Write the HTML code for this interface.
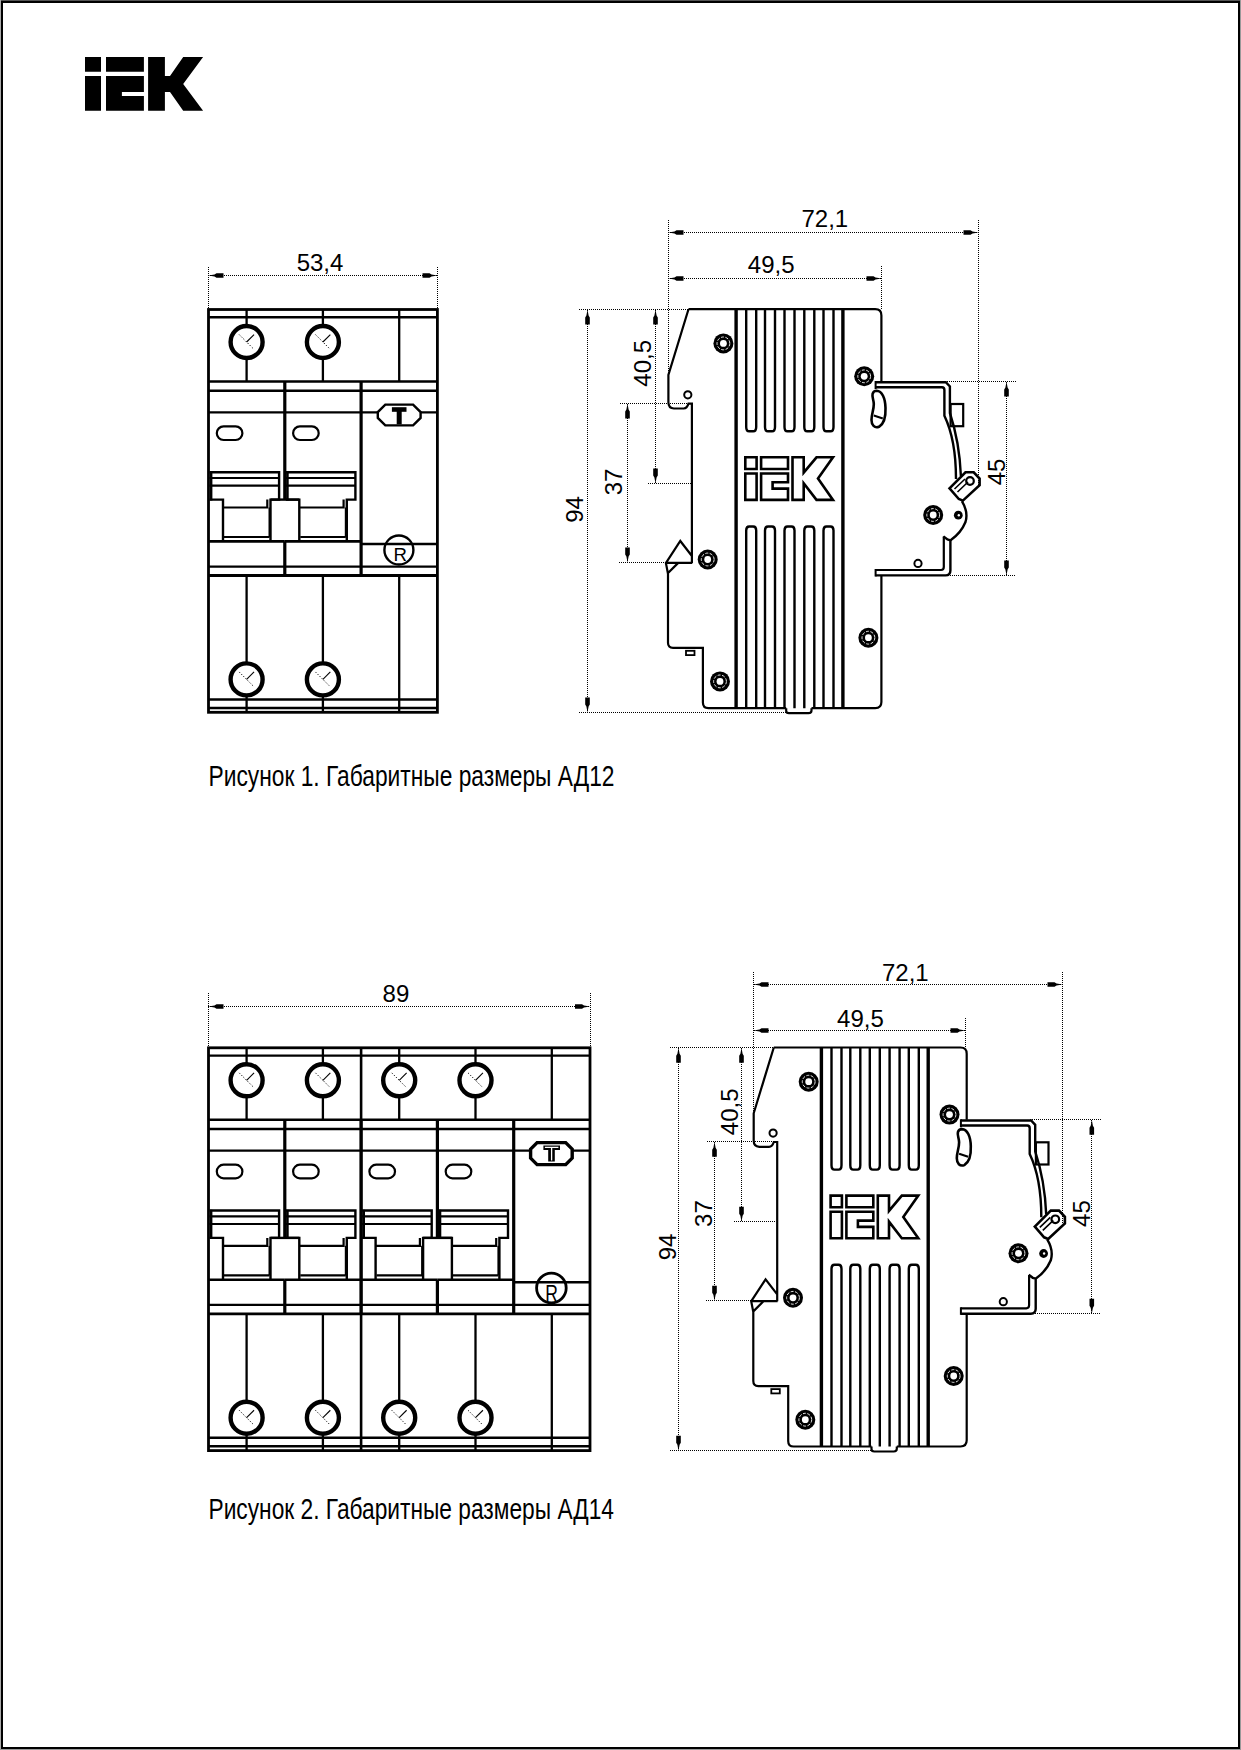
<!DOCTYPE html>
<html><head><meta charset="utf-8"><title>IEK AD12 AD14</title>
<style>html,body{margin:0;padding:0;background:#fff;width:1241px;height:1750px;overflow:hidden}svg{display:block}</style>
</head><body>
<svg width="1241" height="1750" viewBox="0 0 1241 1750">
<style>
line,rect,circle,path,polygon{stroke-linecap:butt;stroke-linejoin:miter}
.d{stroke-width:1;stroke-dasharray:1 1;fill:none;shape-rendering:crispEdges}
.d2{stroke-width:1;stroke-dasharray:1.2 1.8;fill:none}
.ar{fill:#000;stroke:none}
text{font-family:"Liberation Sans",sans-serif;fill:#000;stroke:none}
</style>
<rect x="0" y="0" width="1241" height="1750" fill="#fff" stroke="none"/>
<g stroke="#000">
<rect x="0" y="0" width="1241" height="1" fill="#555" stroke="none"/>
<rect x="0" y="0" width="1" height="1750" fill="#aaa" stroke="none"/>
<rect x="1240" y="0" width="1" height="1750" fill="#999" stroke="none"/>
<rect x="0" y="1749" width="1241" height="1" fill="#999" stroke="none"/>
<rect x="2" y="2" width="1237" height="1746" fill="none" stroke-width="2"/>
<path stroke="none" fill="#000" d="M85,57.1H101V71.8H85Z M85,76H101V110.8H85Z M106,57.1H143.9V71.8H106Z M106,76H143.9V91.9H121.9V95.9H143.9V110.8H106Z M148.1,57.1H164.9V76H170L183.2,57.1H203.1L183.2,84L203.1,110.8H183.2L170,91.9H164.9V110.8H148.1Z"/>
<rect x="208.50" y="309.50" width="228.90" height="402.80" stroke-width="2.8" fill="none"/>
<line x1="208.50" y1="317.30" x2="437.40" y2="317.30" stroke-width="2.4" />
<line x1="208.50" y1="381.50" x2="437.40" y2="381.50" stroke-width="2.6" />
<line x1="208.50" y1="390.70" x2="437.40" y2="390.70" stroke-width="2.4" />
<line x1="208.50" y1="412.30" x2="437.40" y2="412.30" stroke-width="2.2" />
<line x1="208.50" y1="566.60" x2="437.40" y2="566.60" stroke-width="2.4" />
<line x1="208.50" y1="575.50" x2="437.40" y2="575.50" stroke-width="2.8" />
<line x1="208.50" y1="699.50" x2="437.40" y2="699.50" stroke-width="2.4" />
<line x1="208.50" y1="708.00" x2="437.40" y2="708.00" stroke-width="2.4" />
<line x1="284.80" y1="381.50" x2="284.80" y2="499.60" stroke-width="3.2" />
<line x1="284.80" y1="541.40" x2="284.80" y2="575.50" stroke-width="3.2" />
<line x1="270.50" y1="499.60" x2="299.30" y2="499.60" stroke-width="2.4" />
<line x1="361.10" y1="381.50" x2="361.10" y2="575.50" stroke-width="3.2" />
<line x1="246.60" y1="309.50" x2="246.60" y2="381.50" stroke-width="2.3" />
<line x1="246.60" y1="575.50" x2="246.60" y2="712.30" stroke-width="2.3" />
<circle cx="246.60" cy="342.00" r="16.00" stroke-width="4.4" fill="#fff" />
<line x1="246.60" y1="342.00" x2="254.04" y2="334.56" stroke-width="1.1"/>
<line class="d2" x1="239.16" y1="334.56" x2="254.04" y2="349.44"/>
<circle cx="246.60" cy="679.40" r="16.00" stroke-width="4.4" fill="#fff" />
<line x1="246.60" y1="679.40" x2="254.04" y2="671.96" stroke-width="1.1"/>
<line class="d2" x1="239.16" y1="671.96" x2="254.04" y2="686.84"/>
<rect x="216.80" y="426.40" width="25.6" height="13.6" rx="6.8" ry="6.8" stroke-width="2.2" fill="none"/>
<line x1="208.50" y1="541.40" x2="284.80" y2="541.40" stroke-width="2.6" />
<path d="M209.50,472.20 H279.10 V499.60 H270.50 V541.40" stroke-width="2.4" fill="none" />
<path d="M209.50,499.60 H223.00 V541.40" stroke-width="2.4" fill="none" />
<line x1="211.10" y1="471.50" x2="211.10" y2="500.50" stroke-width="2.6" />
<line x1="209.50" y1="478.00" x2="279.10" y2="478.00" stroke-width="2.2" />
<line x1="209.50" y1="485.70" x2="279.10" y2="485.70" stroke-width="2.2" />
<path d="M223.00,507.50 H267.30 V499.60" stroke-width="2.2" fill="none" />
<line x1="224.00" y1="537.00" x2="269.50" y2="537.00" stroke-width="2.2" />
<line x1="269.50" y1="507.50" x2="269.50" y2="537.00" stroke-width="2.0" />
<line x1="322.90" y1="309.50" x2="322.90" y2="381.50" stroke-width="2.3" />
<line x1="322.90" y1="575.50" x2="322.90" y2="712.30" stroke-width="2.3" />
<circle cx="322.90" cy="342.00" r="16.00" stroke-width="4.4" fill="#fff" />
<line x1="322.90" y1="342.00" x2="330.34" y2="334.56" stroke-width="1.1"/>
<line class="d2" x1="315.46" y1="334.56" x2="330.34" y2="349.44"/>
<circle cx="322.90" cy="679.40" r="16.00" stroke-width="4.4" fill="#fff" />
<line x1="322.90" y1="679.40" x2="330.34" y2="671.96" stroke-width="1.1"/>
<line class="d2" x1="315.46" y1="671.96" x2="330.34" y2="686.84"/>
<rect x="293.10" y="426.40" width="25.6" height="13.6" rx="6.8" ry="6.8" stroke-width="2.2" fill="none"/>
<line x1="284.80" y1="541.40" x2="361.10" y2="541.40" stroke-width="2.6" />
<path d="M285.80,472.20 H355.40 V499.60 H346.80 V541.40" stroke-width="2.4" fill="none" />
<path d="M285.80,499.60 H299.30 V541.40" stroke-width="2.4" fill="none" />
<line x1="287.40" y1="471.50" x2="287.40" y2="500.50" stroke-width="2.6" />
<line x1="285.80" y1="478.00" x2="355.40" y2="478.00" stroke-width="2.2" />
<line x1="285.80" y1="485.70" x2="355.40" y2="485.70" stroke-width="2.2" />
<path d="M299.30,507.50 H343.60 V499.60" stroke-width="2.2" fill="none" />
<line x1="300.30" y1="537.00" x2="345.80" y2="537.00" stroke-width="2.2" />
<line x1="345.80" y1="507.50" x2="345.80" y2="537.00" stroke-width="2.0" />
<line x1="399.20" y1="309.50" x2="399.20" y2="381.50" stroke-width="2.3" />
<line x1="399.20" y1="575.50" x2="399.20" y2="712.30" stroke-width="2.3" />
<line x1="361.10" y1="544.00" x2="437.40" y2="544.00" stroke-width="2.4" />
<polygon points="385.30,404.60 413.10,404.60 420.60,412.10 420.60,417.90 413.10,425.40 385.30,425.40 377.80,417.90 377.80,412.10" fill="#fff" stroke-width="2.4"/>
<rect x="391.90" y="407.20" width="14.6" height="4.6" fill="#000" stroke="none"/>
<rect x="396.70" y="411.00" width="5" height="13.4" fill="#000" stroke="none"/>
<text transform="translate(400.1,560.6) scale(0.98,1)" font-size="19" text-anchor="middle">R</text>
<circle cx="398.90" cy="550.00" r="14.50" stroke-width="2.4" fill="none" />
<rect x="208.50" y="1047.80" width="381.50" height="402.80" stroke-width="2.8" fill="none"/>
<line x1="208.50" y1="1055.60" x2="590.00" y2="1055.60" stroke-width="2.4" />
<line x1="208.50" y1="1119.80" x2="590.00" y2="1119.80" stroke-width="2.6" />
<line x1="208.50" y1="1129.00" x2="590.00" y2="1129.00" stroke-width="2.4" />
<line x1="208.50" y1="1150.60" x2="590.00" y2="1150.60" stroke-width="2.2" />
<line x1="208.50" y1="1304.90" x2="590.00" y2="1304.90" stroke-width="2.4" />
<line x1="208.50" y1="1313.80" x2="590.00" y2="1313.80" stroke-width="2.8" />
<line x1="208.50" y1="1437.80" x2="590.00" y2="1437.80" stroke-width="2.4" />
<line x1="208.50" y1="1446.30" x2="590.00" y2="1446.30" stroke-width="2.4" />
<line x1="361.10" y1="1047.80" x2="361.10" y2="1450.60" stroke-width="2.6" />
<line x1="284.80" y1="1119.80" x2="284.80" y2="1237.90" stroke-width="3.2" />
<line x1="284.80" y1="1279.70" x2="284.80" y2="1313.80" stroke-width="3.2" />
<line x1="270.50" y1="1237.90" x2="299.30" y2="1237.90" stroke-width="2.4" />
<line x1="361.10" y1="1119.80" x2="361.10" y2="1313.80" stroke-width="3.2" />
<line x1="437.40" y1="1119.80" x2="437.40" y2="1237.90" stroke-width="3.2" />
<line x1="437.40" y1="1279.70" x2="437.40" y2="1313.80" stroke-width="3.2" />
<line x1="423.10" y1="1237.90" x2="451.90" y2="1237.90" stroke-width="2.4" />
<line x1="513.70" y1="1119.80" x2="513.70" y2="1313.80" stroke-width="3.2" />
<line x1="246.60" y1="1047.80" x2="246.60" y2="1119.80" stroke-width="2.3" />
<line x1="246.60" y1="1313.80" x2="246.60" y2="1450.60" stroke-width="2.3" />
<circle cx="246.60" cy="1080.30" r="16.00" stroke-width="4.4" fill="#fff" />
<line x1="246.60" y1="1080.30" x2="254.04" y2="1072.86" stroke-width="1.1"/>
<line class="d2" x1="239.16" y1="1072.86" x2="254.04" y2="1087.74"/>
<circle cx="246.60" cy="1417.70" r="16.00" stroke-width="4.4" fill="#fff" />
<line x1="246.60" y1="1417.70" x2="254.04" y2="1410.26" stroke-width="1.1"/>
<line class="d2" x1="239.16" y1="1410.26" x2="254.04" y2="1425.14"/>
<rect x="216.80" y="1164.70" width="25.6" height="13.6" rx="6.8" ry="6.8" stroke-width="2.2" fill="none"/>
<line x1="208.50" y1="1279.70" x2="284.80" y2="1279.70" stroke-width="2.6" />
<path d="M209.50,1210.50 H279.10 V1237.90 H270.50 V1279.70" stroke-width="2.4" fill="none" />
<path d="M209.50,1237.90 H223.00 V1279.70" stroke-width="2.4" fill="none" />
<line x1="211.10" y1="1209.80" x2="211.10" y2="1238.80" stroke-width="2.6" />
<line x1="209.50" y1="1216.30" x2="279.10" y2="1216.30" stroke-width="2.2" />
<line x1="209.50" y1="1224.00" x2="279.10" y2="1224.00" stroke-width="2.2" />
<path d="M223.00,1245.80 H267.30 V1237.90" stroke-width="2.2" fill="none" />
<line x1="224.00" y1="1275.30" x2="269.50" y2="1275.30" stroke-width="2.2" />
<line x1="269.50" y1="1245.80" x2="269.50" y2="1275.30" stroke-width="2.0" />
<line x1="322.90" y1="1047.80" x2="322.90" y2="1119.80" stroke-width="2.3" />
<line x1="322.90" y1="1313.80" x2="322.90" y2="1450.60" stroke-width="2.3" />
<circle cx="322.90" cy="1080.30" r="16.00" stroke-width="4.4" fill="#fff" />
<line x1="322.90" y1="1080.30" x2="330.34" y2="1072.86" stroke-width="1.1"/>
<line class="d2" x1="315.46" y1="1072.86" x2="330.34" y2="1087.74"/>
<circle cx="322.90" cy="1417.70" r="16.00" stroke-width="4.4" fill="#fff" />
<line x1="322.90" y1="1417.70" x2="330.34" y2="1410.26" stroke-width="1.1"/>
<line class="d2" x1="315.46" y1="1410.26" x2="330.34" y2="1425.14"/>
<rect x="293.10" y="1164.70" width="25.6" height="13.6" rx="6.8" ry="6.8" stroke-width="2.2" fill="none"/>
<line x1="284.80" y1="1279.70" x2="361.10" y2="1279.70" stroke-width="2.6" />
<path d="M285.80,1210.50 H355.40 V1237.90 H346.80 V1279.70" stroke-width="2.4" fill="none" />
<path d="M285.80,1237.90 H299.30 V1279.70" stroke-width="2.4" fill="none" />
<line x1="287.40" y1="1209.80" x2="287.40" y2="1238.80" stroke-width="2.6" />
<line x1="285.80" y1="1216.30" x2="355.40" y2="1216.30" stroke-width="2.2" />
<line x1="285.80" y1="1224.00" x2="355.40" y2="1224.00" stroke-width="2.2" />
<path d="M299.30,1245.80 H343.60 V1237.90" stroke-width="2.2" fill="none" />
<line x1="300.30" y1="1275.30" x2="345.80" y2="1275.30" stroke-width="2.2" />
<line x1="345.80" y1="1245.80" x2="345.80" y2="1275.30" stroke-width="2.0" />
<line x1="399.20" y1="1047.80" x2="399.20" y2="1119.80" stroke-width="2.3" />
<line x1="399.20" y1="1313.80" x2="399.20" y2="1450.60" stroke-width="2.3" />
<circle cx="399.20" cy="1080.30" r="16.00" stroke-width="4.4" fill="#fff" />
<line x1="399.20" y1="1080.30" x2="406.64" y2="1072.86" stroke-width="1.1"/>
<line class="d2" x1="391.76" y1="1072.86" x2="406.64" y2="1087.74"/>
<circle cx="399.20" cy="1417.70" r="16.00" stroke-width="4.4" fill="#fff" />
<line x1="399.20" y1="1417.70" x2="406.64" y2="1410.26" stroke-width="1.1"/>
<line class="d2" x1="391.76" y1="1410.26" x2="406.64" y2="1425.14"/>
<rect x="369.40" y="1164.70" width="25.6" height="13.6" rx="6.8" ry="6.8" stroke-width="2.2" fill="none"/>
<line x1="361.10" y1="1279.70" x2="437.40" y2="1279.70" stroke-width="2.6" />
<path d="M362.10,1210.50 H431.70 V1237.90 H423.10 V1279.70" stroke-width="2.4" fill="none" />
<path d="M362.10,1237.90 H375.60 V1279.70" stroke-width="2.4" fill="none" />
<line x1="363.70" y1="1209.80" x2="363.70" y2="1238.80" stroke-width="2.6" />
<line x1="362.10" y1="1216.30" x2="431.70" y2="1216.30" stroke-width="2.2" />
<line x1="362.10" y1="1224.00" x2="431.70" y2="1224.00" stroke-width="2.2" />
<path d="M375.60,1245.80 H419.90 V1237.90" stroke-width="2.2" fill="none" />
<line x1="376.60" y1="1275.30" x2="422.10" y2="1275.30" stroke-width="2.2" />
<line x1="422.10" y1="1245.80" x2="422.10" y2="1275.30" stroke-width="2.0" />
<line x1="475.50" y1="1047.80" x2="475.50" y2="1119.80" stroke-width="2.3" />
<line x1="475.50" y1="1313.80" x2="475.50" y2="1450.60" stroke-width="2.3" />
<circle cx="475.50" cy="1080.30" r="16.00" stroke-width="4.4" fill="#fff" />
<line x1="475.50" y1="1080.30" x2="482.94" y2="1072.86" stroke-width="1.1"/>
<line class="d2" x1="468.06" y1="1072.86" x2="482.94" y2="1087.74"/>
<circle cx="475.50" cy="1417.70" r="16.00" stroke-width="4.4" fill="#fff" />
<line x1="475.50" y1="1417.70" x2="482.94" y2="1410.26" stroke-width="1.1"/>
<line class="d2" x1="468.06" y1="1410.26" x2="482.94" y2="1425.14"/>
<rect x="445.70" y="1164.70" width="25.6" height="13.6" rx="6.8" ry="6.8" stroke-width="2.2" fill="none"/>
<line x1="437.40" y1="1279.70" x2="513.70" y2="1279.70" stroke-width="2.6" />
<path d="M438.40,1210.50 H508.00 V1237.90 H499.40 V1279.70" stroke-width="2.4" fill="none" />
<path d="M438.40,1237.90 H451.90 V1279.70" stroke-width="2.4" fill="none" />
<line x1="440.00" y1="1209.80" x2="440.00" y2="1238.80" stroke-width="2.6" />
<line x1="438.40" y1="1216.30" x2="508.00" y2="1216.30" stroke-width="2.2" />
<line x1="438.40" y1="1224.00" x2="508.00" y2="1224.00" stroke-width="2.2" />
<path d="M451.90,1245.80 H496.20 V1237.90" stroke-width="2.2" fill="none" />
<line x1="452.90" y1="1275.30" x2="498.40" y2="1275.30" stroke-width="2.2" />
<line x1="498.40" y1="1245.80" x2="498.40" y2="1275.30" stroke-width="2.0" />
<line x1="551.80" y1="1047.80" x2="551.80" y2="1119.80" stroke-width="2.3" />
<line x1="551.80" y1="1313.80" x2="551.80" y2="1450.60" stroke-width="2.3" />
<line x1="513.70" y1="1282.30" x2="590.00" y2="1282.30" stroke-width="2.4" />
<polygon points="537.10,1142.60 565.70,1142.60 572.20,1149.10 572.20,1158.10 565.70,1164.60 537.10,1164.60 530.60,1158.10 530.60,1149.10" fill="#fff" stroke-width="3.4"/>
<path d="M543.40,1145.40 H560.00 V1150.00 H554.80 V1161.60 H548.20 V1150.00 H543.40 Z" fill="#000" stroke="none"/>
<path d="M544.90,1147.30 H558.40 M551.60,1147.60 V1160.60" style="stroke:#fff" stroke-width="1.3"/>
<text transform="translate(551.6,1302.1) scale(0.74,1)" font-size="23.7" text-anchor="middle">R</text>
<circle cx="551.40" cy="1288.00" r="14.80" stroke-width="2.8" fill="none" />
<g id="side">
<path d="M688.5,309.2 H875.2 Q881.4,309.2 881.4,315.4 V381.5 M881.4,575.2 V702 Q881.4,708.2 875.2,708.2 H811.5 M786.2,708.2 H708.4 Q702.9,708.2 702.9,702.6 V647.8 H673 Q668,647.8 668,642.8 V573.8 L665.9,562.9 L667.3,560.8 L680.3,541 L691.9,556 M665.9,562.9 H692.3 M667.3,573.8 L678.2,562.9 M691.9,562.9 V403.7 H688.5 Q687,408.5 683.7,408.5 H674 Q668.4,408.5 668.4,402.3 V375 L688.5,309.2" stroke-width="2.2" fill="none" />
<path d="M786.2,708.2 V711 Q786.2,713.2 789,713.2 H808.5 Q811.5,713.2 811.5,710.5 V708.2" stroke-width="2.2" fill="none" />
<line x1="736.10" y1="309.20" x2="736.10" y2="708.20" stroke-width="3.4" />
<line x1="842.90" y1="309.20" x2="842.90" y2="708.20" stroke-width="3.4" />
<path d="M746.20,309.2 V427 Q746.20,431.3 749.20,431.3 H753.20 Q756.20,431.3 756.20,427 V309.2" stroke-width="2.4" fill="none" />
<path d="M746.20,708.2 V530.5 Q746.20,526.5 749.20,526.5 H753.20 Q756.20,526.5 756.20,530.5 V708.2" stroke-width="2.4" fill="none" />
<path d="M765.00,309.2 V427 Q765.00,431.3 768.00,431.3 H772.00 Q775.00,431.3 775.00,427 V309.2" stroke-width="2.4" fill="none" />
<path d="M765.00,708.2 V530.5 Q765.00,526.5 768.00,526.5 H772.00 Q775.00,526.5 775.00,530.5 V708.2" stroke-width="2.4" fill="none" />
<path d="M784.50,309.2 V427 Q784.50,431.3 787.50,431.3 H791.50 Q794.50,431.3 794.50,427 V309.2" stroke-width="2.4" fill="none" />
<path d="M784.50,708.2 V530.5 Q784.50,526.5 787.50,526.5 H791.50 Q794.50,526.5 794.50,530.5 V708.2" stroke-width="2.4" fill="none" />
<path d="M804.30,309.2 V427 Q804.30,431.3 807.30,431.3 H811.30 Q814.30,431.3 814.30,427 V309.2" stroke-width="2.4" fill="none" />
<path d="M804.30,708.2 V530.5 Q804.30,526.5 807.30,526.5 H811.30 Q814.30,526.5 814.30,530.5 V708.2" stroke-width="2.4" fill="none" />
<path d="M823.50,309.2 V427 Q823.50,431.3 826.50,431.3 H830.50 Q833.50,431.3 833.50,427 V309.2" stroke-width="2.4" fill="none" />
<path d="M823.50,708.2 V530.5 Q823.50,526.5 826.50,526.5 H830.50 Q833.50,526.5 833.50,530.5 V708.2" stroke-width="2.4" fill="none" />
<path d="M745.3,457.3 H756.6 V469.0 H745.3 Z M745.3,473.5 H756.6 V499.9 H745.3 Z M761.1,457.3 H788.0 V469.0 H761.1 Z M761.1,473.5 H788.0 V482.3 H772.6 V488.6 H788.0 V499.9 H761.1 Z M792.5,457.3 H803.7 V472.6 L816.5,457.3 H833.0 L818.0,478.6 L833.0,499.9 H816.5 L803.7,483.3 V499.9 H792.5 Z" stroke-width="2.6" fill="none" />
<circle cx="723.40" cy="343.40" r="10" fill="#000" stroke="none"/>
<circle cx="723.40" cy="343.40" r="6.4" fill="none" style="stroke:#fff;stroke-width:0.9;stroke-dasharray:3 1.5"/>
<circle cx="723.40" cy="343.40" r="3.4" fill="#fff" stroke="none"/>
<circle cx="707.70" cy="559.50" r="10" fill="#000" stroke="none"/>
<circle cx="707.70" cy="559.50" r="6.4" fill="none" style="stroke:#fff;stroke-width:0.9;stroke-dasharray:3 1.5"/>
<circle cx="707.70" cy="559.50" r="3.4" fill="#fff" stroke="none"/>
<circle cx="720.00" cy="681.40" r="10" fill="#000" stroke="none"/>
<circle cx="720.00" cy="681.40" r="6.4" fill="none" style="stroke:#fff;stroke-width:0.9;stroke-dasharray:3 1.5"/>
<circle cx="720.00" cy="681.40" r="3.4" fill="#fff" stroke="none"/>
<circle cx="864.20" cy="376.30" r="10" fill="#000" stroke="none"/>
<circle cx="864.20" cy="376.30" r="6.4" fill="none" style="stroke:#fff;stroke-width:0.9;stroke-dasharray:3 1.5"/>
<circle cx="864.20" cy="376.30" r="3.4" fill="#fff" stroke="none"/>
<circle cx="933.20" cy="515.00" r="10" fill="#000" stroke="none"/>
<circle cx="933.20" cy="515.00" r="6.4" fill="none" style="stroke:#fff;stroke-width:0.9;stroke-dasharray:3 1.5"/>
<circle cx="933.20" cy="515.00" r="3.4" fill="#fff" stroke="none"/>
<circle cx="868.40" cy="637.70" r="10" fill="#000" stroke="none"/>
<circle cx="868.40" cy="637.70" r="6.4" fill="none" style="stroke:#fff;stroke-width:0.9;stroke-dasharray:3 1.5"/>
<circle cx="868.40" cy="637.70" r="3.4" fill="#fff" stroke="none"/>
<circle cx="687.80" cy="394.80" r="3.60" stroke-width="2.0" fill="none" />
<circle cx="918.00" cy="563.40" r="3.60" stroke-width="2.0" fill="none" />
<circle cx="958.3" cy="515.2" r="4.4" fill="#000" stroke="none"/>
<circle cx="958.8" cy="515.2" r="1.2" fill="#fff" stroke="none"/>
<rect x="686" y="650.8" width="8.5" height="4.3" stroke-width="1.8" fill="none"/>
<path d="M876.6,390.8 C882,391 885.3,398 885.5,408 C885.8,416 883.8,424 879,426.8 C874.5,428.5 871.5,425 871.5,420 C871.5,414 873.8,410 873.8,404 C873.8,400 871.8,397 872.6,393.8 C873.3,391.5 875,390.8 876.6,390.8 Z" stroke-width="2.6" fill="none" />
<line x1="873.80" y1="415.50" x2="882.80" y2="418.50" stroke-width="2.0" />
<path d="M875.4,382.2 H945.8 L949.9,386.5 V413 Q959.5,442 960.9,476" stroke-width="2.4" fill="none" />
<path d="M875.4,387.2 H942 Q944.4,387.2 944.4,390 V415.8 Q956,440 956,479" stroke-width="2.4" fill="none" />
<line x1="875.60" y1="381.00" x2="875.60" y2="389.00" stroke-width="2.0" />
<rect x="950.6" y="404" width="12.6" height="22.2" stroke-width="2.2" fill="none"/>
<path d="M949.5,488.3 L965.5,472.3 H973.7 L979.6,478.5 V485.2 L962.9,500.6 L958.8,499 Z" stroke-width="2.6" fill="#fff" />
<path d="M954.5,489 L965,479 M957.5,492 L968,482" stroke-width="1.6" fill="none" />
<circle cx="970.00" cy="481.00" r="3.80" stroke-width="2.2" fill="none" />
<path d="M961.9,501.1 Q968.5,512 965.5,522 Q961,533 950.6,540.2" stroke-width="2.4" fill="none" />
<path d="M943.4,536.4 L947.5,539.5 L950.4,540.3 V570.5 Q950.4,575.4 945.5,575.4 H875.4" stroke-width="2.4" fill="none" />
<path d="M943.8,536.6 V567 Q943.8,570 941,570 H875.4" stroke-width="2.2" fill="none" />
<line x1="875.60" y1="569.00" x2="875.60" y2="576.50" stroke-width="2.0" />
</g>
<use href="#side" transform="translate(85.3,738.3)"/>
<path class="d" d="M208.5,267V309"/>
<path class="d" d="M437.5,267V309"/>
<path class="d" d="M208,275.5H438"/>
<polygon class="ar" points="208.50,275.50 214.50,274.40 216.50,273.20 223.50,273.20 223.50,277.80 216.50,277.80 214.50,276.60"/>
<polygon class="ar" points="437.50,275.50 431.50,276.60 429.50,277.80 422.50,277.80 422.50,273.20 429.50,273.20 431.50,274.40"/>
<text x="320.00" y="271.20" font-size="24" text-anchor="middle" >53,4</text>
<path class="d" d="M208.5,993V1047"/>
<path class="d" d="M590.5,993V1047"/>
<path class="d" d="M208,1006.5H590"/>
<polygon class="ar" points="208.50,1006.50 214.50,1005.40 216.50,1004.20 223.50,1004.20 223.50,1008.80 216.50,1008.80 214.50,1007.60"/>
<polygon class="ar" points="590.00,1006.50 584.00,1007.60 582.00,1008.80 575.00,1008.80 575.00,1004.20 582.00,1004.20 584.00,1005.40"/>
<text x="395.90" y="1001.80" font-size="24" text-anchor="middle" >89</text>
<path class="d" d="M668.5,220V404"/>
<path class="d" d="M978.5,220V485"/>
<path class="d" d="M881.5,266V309"/>
<path class="d" d="M668,232.5H978"/>
<polygon class="ar" points="668.50,232.50 674.50,231.40 676.50,230.20 683.50,230.20 683.50,234.80 676.50,234.80 674.50,233.60"/>
<polygon class="ar" points="978.50,232.50 972.50,233.60 970.50,234.80 963.50,234.80 963.50,230.20 970.50,230.20 972.50,231.40"/>
<path class="d" d="M668,278.5H882"/>
<polygon class="ar" points="668.50,278.50 674.50,277.40 676.50,276.20 683.50,276.20 683.50,280.80 676.50,280.80 674.50,279.60"/>
<polygon class="ar" points="881.50,278.50 875.50,279.60 873.50,280.80 866.50,280.80 866.50,276.20 873.50,276.20 875.50,277.40"/>
<path class="d" d="M579,309.5H688"/>
<path class="d" d="M579,712.5H786"/>
<path class="d" d="M620,403.5H690"/>
<path class="d" d="M648,483.5H691"/>
<path class="d" d="M619,562.5H666"/>
<path class="d" d="M587.5,310V712"/>
<polygon class="ar" points="587.50,309.50 588.60,315.50 589.80,317.50 589.80,324.50 585.20,324.50 585.20,317.50 586.40,315.50"/>
<polygon class="ar" points="587.50,712.50 586.40,706.50 585.20,704.50 585.20,697.50 589.80,697.50 589.80,704.50 588.60,706.50"/>
<path class="d" d="M655.5,310V484"/>
<polygon class="ar" points="655.50,309.50 656.60,315.50 657.80,317.50 657.80,324.50 653.20,324.50 653.20,317.50 654.40,315.50"/>
<polygon class="ar" points="655.50,483.50 654.40,477.50 653.20,475.50 653.20,468.50 657.80,468.50 657.80,475.50 656.60,477.50"/>
<path class="d" d="M627.5,404V562"/>
<polygon class="ar" points="627.50,403.50 628.60,409.50 629.80,411.50 629.80,418.50 625.20,418.50 625.20,411.50 626.40,409.50"/>
<polygon class="ar" points="627.50,562.50 626.40,556.50 625.20,554.50 625.20,547.50 629.80,547.50 629.80,554.50 628.60,556.50"/>
<path class="d" d="M945,381.5H1016"/>
<path class="d" d="M944,575.5H1015"/>
<path class="d" d="M1006.5,382V576"/>
<polygon class="ar" points="1006.50,381.50 1007.60,387.50 1008.80,389.50 1008.80,396.50 1004.20,396.50 1004.20,389.50 1005.40,387.50"/>
<polygon class="ar" points="1006.50,575.50 1005.40,569.50 1004.20,567.50 1004.20,560.50 1008.80,560.50 1008.80,567.50 1007.60,569.50"/>
<text x="824.80" y="227.40" font-size="24" text-anchor="middle" >72,1</text>
<text x="771.20" y="273.40" font-size="24" text-anchor="middle" >49,5</text>
<text x="583.20" y="509.50" font-size="24" text-anchor="middle" transform="rotate(-90 583.20 509.50)" >94</text>
<text x="651.50" y="363.30" font-size="24" text-anchor="middle" transform="rotate(-90 651.50 363.30)" >40,5</text>
<text x="622.00" y="482.00" font-size="24" text-anchor="middle" transform="rotate(-90 622.00 482.00)" >37</text>
<text x="1004.50" y="472.00" font-size="24" text-anchor="middle" transform="rotate(-90 1004.50 472.00)" >45</text>
<path class="d" d="M753.5,972V1142"/>
<path class="d" d="M1062.5,972V1223"/>
<path class="d" d="M965.5,1018V1047"/>
<path class="d" d="M754,984.5H1062"/>
<polygon class="ar" points="753.50,984.50 759.50,983.40 761.50,982.20 768.50,982.20 768.50,986.80 761.50,986.80 759.50,985.60"/>
<polygon class="ar" points="1062.50,984.50 1056.50,985.60 1054.50,986.80 1047.50,986.80 1047.50,982.20 1054.50,982.20 1056.50,983.40"/>
<path class="d" d="M754,1030.5H966"/>
<polygon class="ar" points="753.50,1030.50 759.50,1029.40 761.50,1028.20 768.50,1028.20 768.50,1032.80 761.50,1032.80 759.50,1031.60"/>
<polygon class="ar" points="965.50,1030.50 959.50,1031.60 957.50,1032.80 950.50,1032.80 950.50,1028.20 957.50,1028.20 959.50,1029.40"/>
<path class="d" d="M670,1047.5H773"/>
<path class="d" d="M670,1450.5H871"/>
<path class="d" d="M707,1141.5H775"/>
<path class="d" d="M734,1221.5H776"/>
<path class="d" d="M706,1300.5H751"/>
<path class="d" d="M678.5,1048V1451"/>
<polygon class="ar" points="678.50,1047.80 679.60,1053.80 680.80,1055.80 680.80,1062.80 676.20,1062.80 676.20,1055.80 677.40,1053.80"/>
<polygon class="ar" points="678.50,1450.80 677.40,1444.80 676.20,1442.80 676.20,1435.80 680.80,1435.80 680.80,1442.80 679.60,1444.80"/>
<path class="d" d="M741.5,1048V1222"/>
<polygon class="ar" points="741.50,1047.80 742.60,1053.80 743.80,1055.80 743.80,1062.80 739.20,1062.80 739.20,1055.80 740.40,1053.80"/>
<polygon class="ar" points="741.50,1221.80 740.40,1215.80 739.20,1213.80 739.20,1206.80 743.80,1206.80 743.80,1213.80 742.60,1215.80"/>
<path class="d" d="M714.5,1142V1301"/>
<polygon class="ar" points="714.50,1141.80 715.60,1147.80 716.80,1149.80 716.80,1156.80 712.20,1156.80 712.20,1149.80 713.40,1147.80"/>
<polygon class="ar" points="714.50,1300.80 713.40,1294.80 712.20,1292.80 712.20,1285.80 716.80,1285.80 716.80,1292.80 715.60,1294.80"/>
<path class="d" d="M1030,1119.5H1101"/>
<path class="d" d="M1029,1313.5H1100"/>
<path class="d" d="M1091.5,1120V1314"/>
<polygon class="ar" points="1091.80,1119.80 1092.90,1125.80 1094.10,1127.80 1094.10,1134.80 1089.50,1134.80 1089.50,1127.80 1090.70,1125.80"/>
<polygon class="ar" points="1091.80,1313.80 1090.70,1307.80 1089.50,1305.80 1089.50,1298.80 1094.10,1298.80 1094.10,1305.80 1092.90,1307.80"/>
<text x="905.30" y="981.40" font-size="24" text-anchor="middle" >72,1</text>
<text x="860.40" y="1026.80" font-size="24" text-anchor="middle" >49,5</text>
<text x="675.80" y="1247.00" font-size="24" text-anchor="middle" transform="rotate(-90 675.80 1247.00)" >94</text>
<text x="738.00" y="1111.80" font-size="24" text-anchor="middle" transform="rotate(-90 738.00 1111.80)" >40,5</text>
<text x="712.20" y="1213.60" font-size="24" text-anchor="middle" transform="rotate(-90 712.20 1213.60)" >37</text>
<text x="1089.60" y="1213.60" font-size="24" text-anchor="middle" transform="rotate(-90 1089.60 1213.60)" >45</text>
<text x="208.5" y="786" font-size="29" textLength="406" lengthAdjust="spacingAndGlyphs">Рисунок 1. Габаритные размеры АД12</text>
<text x="208.5" y="1518.7" font-size="29" textLength="405.5" lengthAdjust="spacingAndGlyphs">Рисунок 2. Габаритные размеры АД14</text>
</g>
</svg>
</body></html>
